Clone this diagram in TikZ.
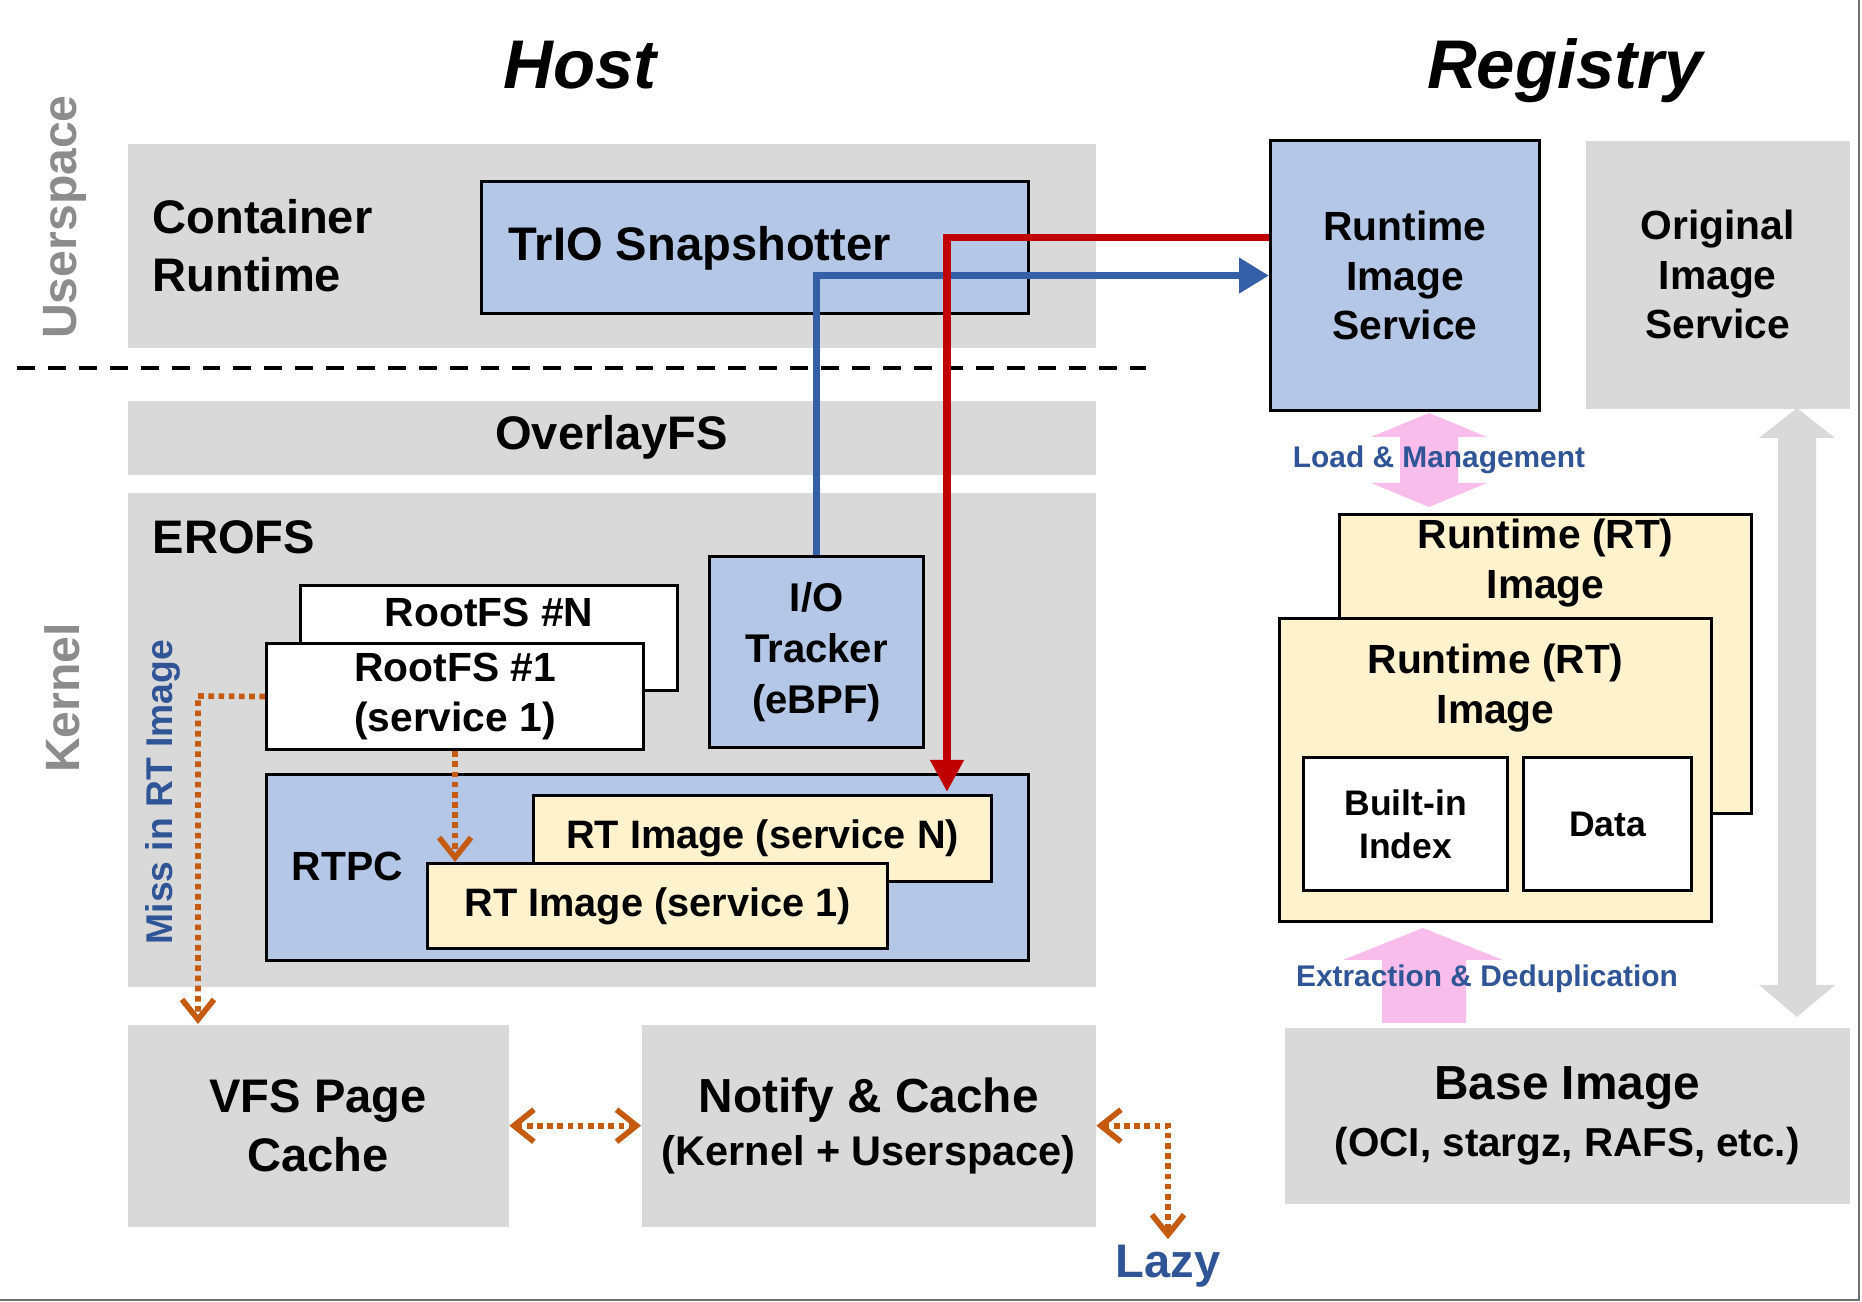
\documentclass[tikz,border=0pt]{standalone}
\usepackage{fontspec}
\setmainfont{Liberation Sans}
\usepackage{tikz}
\usetikzlibrary{arrows.meta}

\definecolor{boxgray}{HTML}{D9D9D9}
\definecolor{boxblue}{HTML}{B4C7E7}
\definecolor{boxyellow}{HTML}{FFF2CC}
\definecolor{rtred}{HTML}{C00000}
\definecolor{ioblue}{HTML}{3560A8}
\definecolor{labelblue}{HTML}{2F5597}
\definecolor{missorange}{HTML}{C55A11}
\definecolor{pinkfill}{HTML}{F9BDEB}
\definecolor{sidegray}{HTML}{8C8C8C}
\definecolor{framegray}{HTML}{707070}

\begin{document}
\begin{tikzpicture}[x=0.1mm,y=-0.1mm,
  >={Straight Barb[length=2mm,width=3.2mm]},
  titletext/.style={font=\fontsize{19.6}{24}\selectfont\bfseries\itshape,inner sep=0pt,anchor=base},
  bigtext/.style={font=\fontsize{13.4}{16.6}\selectfont\bfseries,inner sep=0pt,align=center},
  midtext/.style={font=\fontsize{11.6}{14.1}\selectfont\bfseries,inner sep=0pt,align=center},
  smalltext/.style={font=\fontsize{11.3}{13}\selectfont\bfseries,inner sep=0pt,align=center},
  indextext/.style={font=\fontsize{10.1}{12.2}\selectfont\bfseries,inner sep=0pt,align=center},
  sidelabel/.style={font=\fontsize{13.7}{16}\selectfont\bfseries,text=sidegray,inner sep=0pt,rotate=90},
  arrowlabel/.style={font=\fontsize{8.5}{10}\selectfont\bfseries,text=labelblue,inner sep=0pt},
  graybox/.style={fill=boxgray,inner sep=0pt,anchor=north west},
  bluebox/.style={draw,line width=0.9pt,fill=boxblue,inner sep=0pt,anchor=north west},
  yellowbox/.style={draw,line width=0.9pt,fill=boxyellow,inner sep=0pt,anchor=north west},
  whitebox/.style={draw,line width=0.9pt,fill=white,inner sep=0pt,anchor=north west},
  redline/.style={draw=rtred,line width=2.2pt,-{Triangle[length=3.2mm,width=3.2mm]}},
  blueline/.style={draw=ioblue,line width=2.2pt,-{Triangle[length=3mm,width=3.4mm]}},
  orangeline/.style={draw=missorange,line width=1.6pt,dash pattern=on 1.6pt off 1.3pt}]
  \useasboundingbox (0,0) rectangle (1862,1302);
  \draw[framegray,line width=0.6pt] (1859,0) -- (1859,1300) -- (0,1300);

  % titles
  \node[titletext] (host) at (580,89) {Host};
  \node[titletext] (registry) at (1565,89) {Registry};
  \node[sidelabel] (userspace) at (65,217) {Userspace};
  \node[sidelabel] (kernel) at (62,698) {Kernel};

  % host, userspace
  \node[graybox,minimum width=96.8mm,minimum height=20.4mm] (crbox) at (127,143) {};
  \node[bigtext,anchor=west,align=left] (crlabel) at (152,246) {Container\\Runtime};
  \node[bluebox,minimum width=54.7mm,minimum height=13.2mm] (trio) at (480,180) {};
  \node[bigtext,anchor=west] (triolabel) at (508,248) {TrIO Snapshotter};
  \draw[line width=1.1pt,dash pattern=on 5.1pt off 3.7pt] (17,368) -- (1146,368);

  % host, kernel
  \node[graybox,bigtext,minimum width=96.8mm,minimum height=7.4mm] (ovl) at (127,400) {OverlayFS};
  \node[graybox,minimum width=96.8mm,minimum height=49.4mm] (erofs) at (127,492) {};
  \node[bigtext,anchor=west] (erofslabel) at (152,537) {EROFS};
  \node[whitebox,minimum width=37.7mm,minimum height=10.5mm] (rfsN) at (299,584) {};
  \node[midtext] (rfsNlabel) at ([yshift=-2.8mm]rfsN.north) {RootFS \#N};
  \node[whitebox,midtext,minimum width=37.7mm,minimum height=10.6mm] (rfs1) at (265,642) {RootFS \#1\\(service 1)};
  \node[bluebox,midtext,minimum width=21.4mm,minimum height=19.1mm,font=\fontsize{11.4}{14.4}\selectfont\bfseries] (iot) at (708,555) {I/O\\Tracker\\(eBPF)};
  \node[bluebox,minimum width=76.2mm,minimum height=18.6mm] (rtpc) at (265,773) {};
  \node[midtext,anchor=west] (rtpclabel) at (291,866) {RTPC};
  \node[yellowbox,smalltext,minimum width=45.8mm,minimum height=8.6mm] (rtN) at (532,794) {RT Image (service N)};
  \node[yellowbox,smalltext,minimum width=46mm,minimum height=8.5mm] (rt1) at (426,862) {RT Image (service 1)};
  \node[sidelabel,text=labelblue,font=\fontsize{10.6}{12}\selectfont\bfseries] (misslabel) at (163,792) {Miss in RT Image};

  \node[graybox,bigtext,minimum width=38.1mm,minimum height=20.2mm] (vfs) at (127,1024) {VFS Page\\Cache};
  \node[graybox,bigtext,minimum width=45.4mm,minimum height=20.2mm,font=\fontsize{11.8}{15}\selectfont\bfseries] (notify) at (641,1024) {{\fontsize{13.6}{15}\selectfont Notify \& Cache}\\(Kernel + Userspace)};
  \node[bigtext,text=labelblue] (lazy) at (1168,1266) {Lazy};

  % registry
  \node[bluebox,midtext,minimum width=26.9mm,minimum height=27mm] (ris) at (1269,139) {Runtime\\Image\\Service};
  \node[graybox,midtext,minimum width=26.4mm,minimum height=26.8mm] (ois) at (1585,140) {Original\\Image\\Service};
  \fill[pinkfill] (1429,413) -- (1487,437) -- (1458,437) -- (1458,483) -- (1487,483) -- (1429,507)
    -- (1371,483) -- (1400,483) -- (1400,437) -- (1371,437) -- cycle;
  \node[arrowlabel] (loadlabel) at (1439,460) {Load \& Management};
  \node[yellowbox,minimum width=41.2mm,minimum height=29.9mm] (rtback) at (1338,513) {};
  \node[midtext] (rtbacklabel) at ([yshift=-5mm]rtback.north) {Runtime (RT)\\Image};
  \node[yellowbox,minimum width=43.2mm,minimum height=30.3mm] (rtfront) at (1278,617) {};
  \node[midtext] (rtfrontlabel) at ([yshift=-7.1mm]rtfront.north) {Runtime (RT)\\Image};
  \node[whitebox,indextext,minimum width=20.4mm,minimum height=13.3mm] (idx) at (1302,756) {Built-in\\Index};
  \node[whitebox,indextext,minimum width=16.8mm,minimum height=13.3mm] (data) at (1522,756) {Data};
  \fill[pinkfill] (1423,928) -- (1503,960) -- (1466,960) -- (1466,1023) -- (1382,1023) -- (1382,960)
    -- (1343,960) -- cycle;
  \node[arrowlabel] (extractlabel) at (1487,979) {Extraction \& Deduplication};
  \fill[boxgray] (1797,408) -- (1835,438) -- (1816,438) -- (1816,985) -- (1835,985) -- (1797,1017)
    -- (1759,985) -- (1778,985) -- (1778,438) -- (1759,438) -- cycle;
  \node[graybox,bigtext,minimum width=56.5mm,minimum height=17.6mm,font=\fontsize{11.5}{16.2}\selectfont\bfseries] (base) at (1284,1027) {{\fontsize{13.6}{16.2}\selectfont Base Image}\\(OCI, stargz, RAFS, etc.)};

  % connectors
  \draw[blueline] (iot.north) |- (ris.west);
  \coordinate (redend) at (947,792);
  \draw[redline] ([yshift=3.8mm]ris.west) -| (redend);
  \coordinate (misscorner) at (198,696);
  \draw[orangeline,->] (rfs1.west) -- (misscorner) -- (misscorner |- vfs.north);
  \draw[orangeline,->] (rfs1.south) -- (rfs1.south |- rt1.north);
  \draw[orangeline,<->] (vfs.east) -- (notify.west);
  \draw[orangeline,<->] (notify.east) -| ([yshift=0.5mm]lazy.north);
\end{tikzpicture}
\end{document}
